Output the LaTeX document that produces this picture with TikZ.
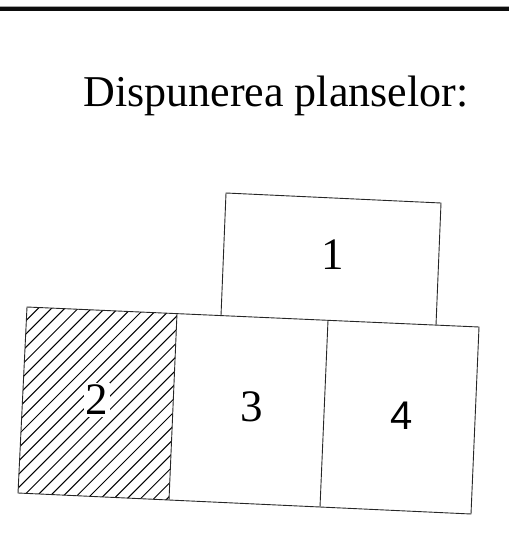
\documentclass[tikz,border=0pt]{standalone}
\usepackage{fontspec}
\setmainfont{Liberation Serif}
\newfontfamily\serifnum{Liberation Serif}
\newfontfamily\arialfont{Liberation Sans}
\begin{document}
\begin{tikzpicture}[x=1pt,y=-1pt,
  edge/.style={line width=0.9pt, black!85},
  hatch/.style={line width=1pt, black},
  num/.style={font=\serifnum\fontsize{45}{45}\selectfont, inner sep=0pt}]
\useasboundingbox (0,0) rectangle (509,540);
% top rule
\draw[line width=1pt, black!35] (0,6.5) -- (509,6.5);
\draw[line width=4pt, black!95] (0,9.3) -- (509,9.3);
% title
\node[font=\fontsize{44}{44}\selectfont, anchor=base, inner sep=0pt] (title) at (276,107) {Dispunerea planselor:};
% corner coordinates
\coordinate (a1) at (226,193);
\coordinate (a2) at (441,203);
\coordinate (a3) at (436,325);
\coordinate (a4) at (221,315.6);
\coordinate (t0) at (27,307);
\coordinate (t1) at (177,313.6);
\coordinate (t2) at (328,320.3);
\coordinate (t3) at (479,327);
\coordinate (b0) at (18,493);
\coordinate (b1) at (169,500);
\coordinate (b2) at (320,507);
\coordinate (b3) at (471,514);
% hatching of sheet 2
\begin{scope}
  \clip (t0) -- (t1) -- (b1) -- (b0) -- cycle;
  \foreach \i in {0,...,30} {
    \draw[hatch] (-200+13.3*\i,520) -- (100+13.3*\i,220);
  }
\end{scope}
% sheets
\draw[edge] (a4) -- (a1) -- (a2) -- (a3);
\draw[edge] (t0) -- (t3) -- (b3) -- (b0) -- cycle;
\draw[edge] (t1) -- (b1);
\draw[edge] (t2) -- (b2);
% labels
\node[num] (n1) at (333,255) {1};
\node[num, fill=white, inner sep=2pt] (n2) at (97,400) {2};
\node[num] (n3) at (252,407) {3};
\node[num, font=\arialfont\fontsize{40}{40}\selectfont] (n4) at (402,416) {4};
\end{tikzpicture}
\end{document}
